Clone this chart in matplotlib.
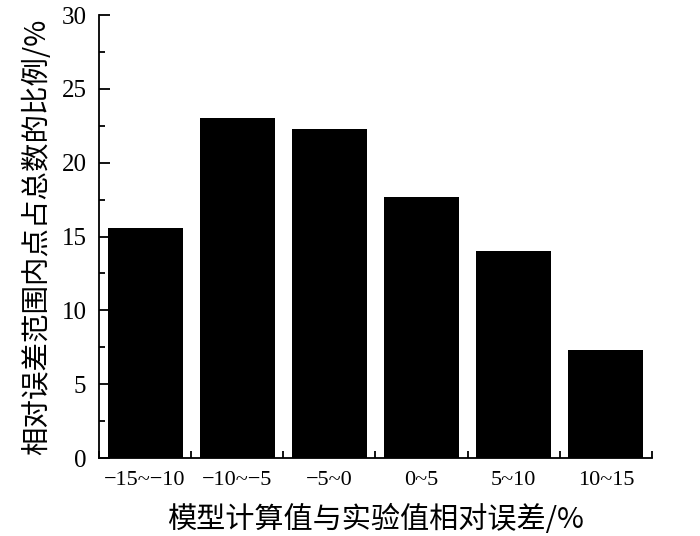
import matplotlib
matplotlib.use("Agg")
import matplotlib.pyplot as plt
import numpy as np
from matplotlib.ticker import MultipleLocator, FixedLocator, NullFormatter

categories = ["\u221215~\u221210", "\u221210~\u22125", "\u22125~0", "0~5", "5~10", "10~15"]
values = [15.6, 23.0, 22.3, 17.7, 14.0, 7.3]
y_ticks = [0, 5, 10, 15, 20, 25, 30]

cjk = ["Noto Sans CJK SC", "DejaVu Sans"]
serif = ["Liberation Serif", "DejaVu Serif"]

fig = plt.figure(figsize=(7.0, 5.36), dpi=100)
ax = fig.add_axes([0.1414, 0.1455, 0.79, 0.8265])

x = np.arange(len(categories))
ax.bar(x, values, width=0.815, color="black", edgecolor="black", linewidth=0)

ax.set_xlim(-0.5, len(categories) - 0.5)
ax.set_ylim(0, 30)

ax.spines["top"].set_visible(False)
ax.spines["right"].set_visible(False)
for s in ("left", "bottom"):
    ax.spines[s].set_linewidth(1.3)

# x: tick marks at category boundaries, labels at centers
ax.xaxis.set_major_locator(FixedLocator(x))
ax.set_xticklabels(categories, fontfamily=serif, fontsize=16)
ax.tick_params(axis="x", which="major", length=0, pad=9)
ax.xaxis.set_minor_locator(FixedLocator(np.arange(-0.5, len(categories), 1.0)))
ax.xaxis.set_minor_formatter(NullFormatter())
ax.tick_params(axis="x", which="minor", direction="in", length=5, width=1.3)

ax.set_yticks(y_ticks)
ax.set_yticklabels([str(v) for v in y_ticks], fontfamily=serif, fontsize=18)
ax.yaxis.set_minor_locator(MultipleLocator(2.5))
ax.tick_params(axis="y", which="major", direction="in", length=8, width=1.3, pad=9)
ax.tick_params(axis="y", which="minor", direction="in", length=4, width=1.3)

ax.set_xlabel("模型计算值与实验值相对误差/%", fontfamily=cjk, fontsize=21, labelpad=11)
ax.set_ylabel("相对误差范围内点占总数的比例/%", fontfamily=cjk, fontsize=20.5, labelpad=7)

fig.savefig("out.png", dpi=100)
